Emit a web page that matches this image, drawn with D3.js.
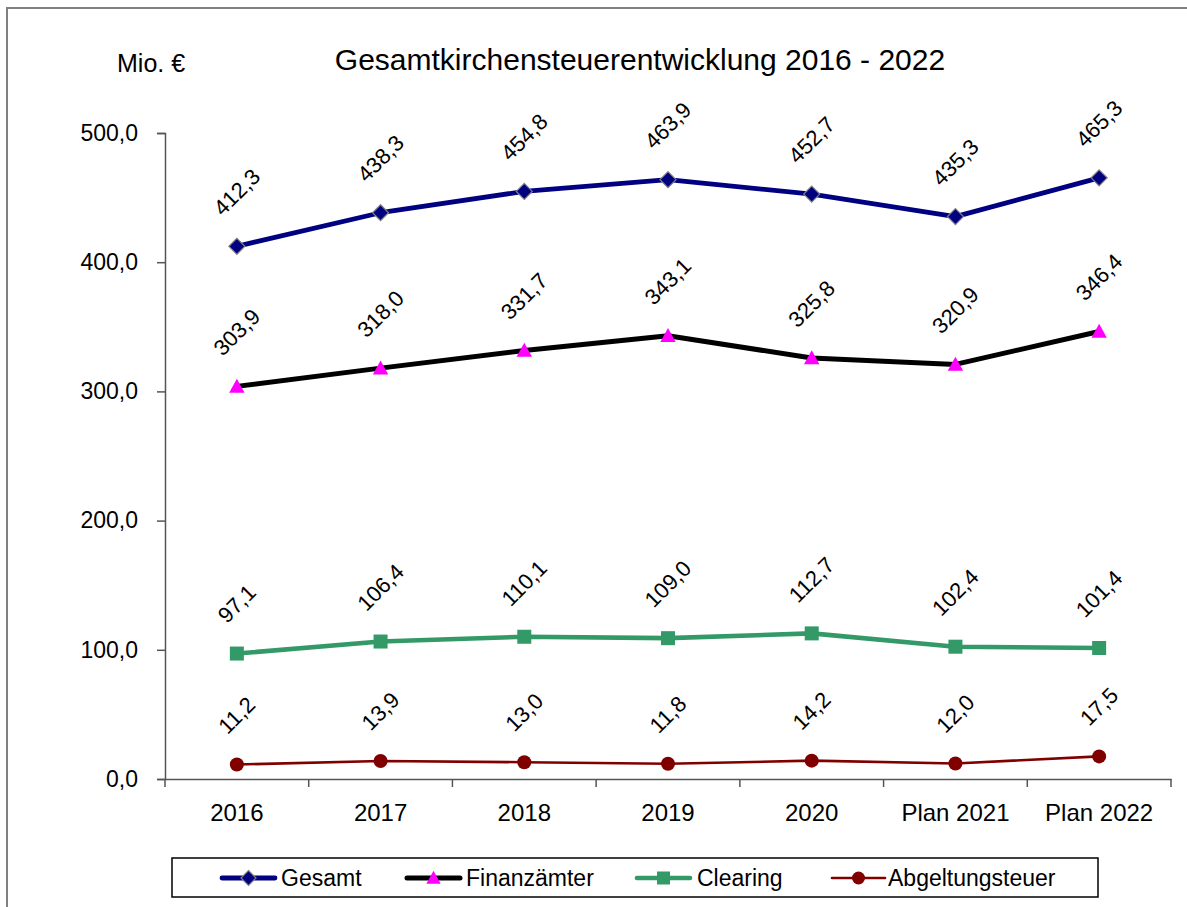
<!DOCTYPE html>
<html>
<head>
<meta charset="utf-8">
<script src="https://cdn.jsdelivr.net/npm/d3@7"></script>
<style>
  body { margin: 0; background: #fff; }
  text { font-family: "Liberation Sans", Arial, sans-serif; fill: #000; }
</style>
</head>
<body>
<svg width="1187" height="907"></svg>
<script>
var svg = d3.select("svg");

var categories = ["2016", "2017", "2018", "2019", "2020", "Plan 2021", "Plan 2022"];
var gesamt = [412.3, 438.3, 454.8, 463.9, 452.7, 435.3, 465.3];
var finanzaemter = [303.9, 318.0, 331.7, 343.1, 325.8, 320.9, 346.4];
var clearing = [97.1, 106.4, 110.1, 109.0, 112.7, 102.4, 101.4];
var abgeltung = [11.2, 13.9, 13.0, 11.8, 14.2, 12.0, 17.5];
var yTicks = [0, 100, 200, 300, 400, 500];

var series = [
  { name: "Gesamt", values: gesamt, color: "#000080", width: 4.8, marker: "diamond", mfill: "#000080", mstroke: "#808080" },
  { name: "Finanzämter", values: finanzaemter, color: "#000000", width: 5, marker: "triangle", mfill: "#ff00ff", mstroke: "none" },
  { name: "Clearing", values: clearing, color: "#339966", width: 4.6, marker: "square", mfill: "#339966", mstroke: "none" },
  { name: "Abgeltungsteuer", values: abgeltung, color: "#800000", width: 2.6, marker: "circle", mfill: "#800000", mstroke: "none" }
];

var fmt = function(v) { return d3.format(".1f")(v).replace(".", ","); };

// outer frame
svg.append("rect")
  .attr("x", 7).attr("y", 8)
  .attr("width", 1220).attr("height", 940)
  .attr("fill", "none").attr("stroke", "#808080").attr("stroke-width", 2);

var x = d3.scaleBand().domain(categories).range([165, 1171]);
var y = d3.scaleLinear().domain([0, 500]).range([779, 133]);
var cx = function(i) { return x(categories[i]) + x.bandwidth() / 2; };

// title
svg.append("text")
  .attr("x", 640).attr("y", 70)
  .attr("text-anchor", "middle")
  .style("font-size", "30px")
  .text("Gesamtkirchensteuerentwicklung 2016 - 2022");

svg.append("text")
  .attr("x", 117).attr("y", 72)
  .style("font-size", "25px")
  .text("Mio. €");

// y axis
var yAxis = d3.axisLeft(y)
  .tickValues(yTicks)
  .tickSize(8)
  .tickPadding(19)
  .tickFormat(fmt);

var gy = svg.append("g").attr("transform", "translate(165,0)").call(yAxis);
gy.select(".domain").attr("stroke", "#555").attr("stroke-width", 1.5);
gy.selectAll(".tick line").attr("stroke", "#555").attr("stroke-width", 1.5);
gy.selectAll(".tick text")
  .style("font-family", "Liberation Sans, Arial, sans-serif")
  .style("font-size", "23px").attr("fill", "#000");

// x axis
var xAxis = d3.axisBottom(x).tickSize(0).tickPadding(25);
var gx = svg.append("g").attr("transform", "translate(0,779)").call(xAxis);
gx.select(".domain").attr("stroke", "#555").attr("stroke-width", 1.5);
gx.selectAll(".tick text")
  .style("font-family", "Liberation Sans, Arial, sans-serif")
  .style("font-size", "24px").attr("fill", "#000");

// x ticks at category boundaries
var bounds = categories.map(function(c) { return x(c); }).concat([x.range()[1]]);
svg.append("g").selectAll("line")
  .data(bounds)
  .enter().append("line")
  .attr("x1", function(d) { return d; }).attr("x2", function(d) { return d; })
  .attr("y1", 779).attr("y2", 787)
  .attr("stroke", "#555").attr("stroke-width", 1.5);

function drawMarker(sel, type, fill, stroke, size) {
  if (type === "circle") {
    sel.append("circle").attr("r", size / 2).attr("fill", fill);
  } else if (type === "square") {
    sel.append("rect").attr("x", -size / 2).attr("y", -size / 2)
      .attr("width", size).attr("height", size).attr("fill", fill);
  } else if (type === "diamond") {
    var s = size / 2 + 1;
    sel.append("path").attr("d", "M0," + (-s) + "L" + s + ",0L0," + s + "L" + (-s) + ",0Z")
      .attr("fill", fill).attr("stroke", stroke).attr("stroke-width", 1.2);
  } else {
    var h = size;
    sel.append("path").attr("d", "M0," + (-h * 0.55) + "L" + (h * 0.55) + "," + (h * 0.45) + "L" + (-h * 0.55) + "," + (h * 0.45) + "Z")
      .attr("fill", fill);
  }
}

var line = d3.line()
  .x(function(d, i) { return cx(i); })
  .y(function(d) { return y(d); });

series.forEach(function(s) {
  var g = svg.append("g");
  g.append("path")
    .datum(s.values)
    .attr("d", line)
    .attr("fill", "none")
    .attr("stroke", s.color)
    .attr("stroke-width", s.width)
    .attr("stroke-linejoin", "round");

  g.selectAll("g.mk")
    .data(s.values)
    .enter().append("g")
    .attr("class", "mk")
    .attr("transform", function(d, i) { return "translate(" + cx(i) + "," + y(d) + ")"; })
    .each(function() { drawMarker(d3.select(this), s.marker, s.mfill, s.mstroke, 14); });

  // rotated value labels
  g.selectAll("text.lbl")
    .data(s.values)
    .enter().append("text")
    .attr("class", "lbl")
    .attr("text-anchor", "middle")
    .attr("dominant-baseline", "central")
    .style("font-size", "22px")
    .text(function(d) { return fmt(d); })
    .each(function(d, i) {
      var L = this.getComputedTextLength();
      var half = 0.707 * (L + 16) / 2;
      var px = cx(i), py = y(d) - 29 - half;
      d3.select(this)
        .attr("x", px).attr("y", py)
        .attr("transform", "rotate(-45," + px + "," + py + ")");
    });
});

// legend
svg.append("rect")
  .attr("x", 172).attr("y", 858)
  .attr("width", 926).attr("height", 39)
  .attr("fill", "#fff").attr("stroke", "#000").attr("stroke-width", 1.5);

var legendPos = [
  { x1: 222, x2: 275, tx: 281 },
  { x1: 407, x2: 460, tx: 466 },
  { x1: 637, x2: 690, tx: 697 },
  { x1: 832, x2: 885, tx: 888 }
];

series.forEach(function(s, i) {
  var p = legendPos[i];
  var g = svg.append("g");
  g.append("line")
    .attr("x1", p.x1).attr("x2", p.x2)
    .attr("y1", 878).attr("y2", 878)
    .attr("stroke", s.color).attr("stroke-width", s.width)
    .attr("stroke-linecap", "round");
  var m = g.append("g").attr("transform", "translate(" + ((p.x1 + p.x2) / 2) + ",878)");
  drawMarker(m, s.marker, s.mfill, s.mstroke, 13);
  g.append("text")
    .attr("x", p.tx).attr("y", 886)
    .style("font-size", "23px")
    .text(s.name);
});
</script>
</body>
</html>
